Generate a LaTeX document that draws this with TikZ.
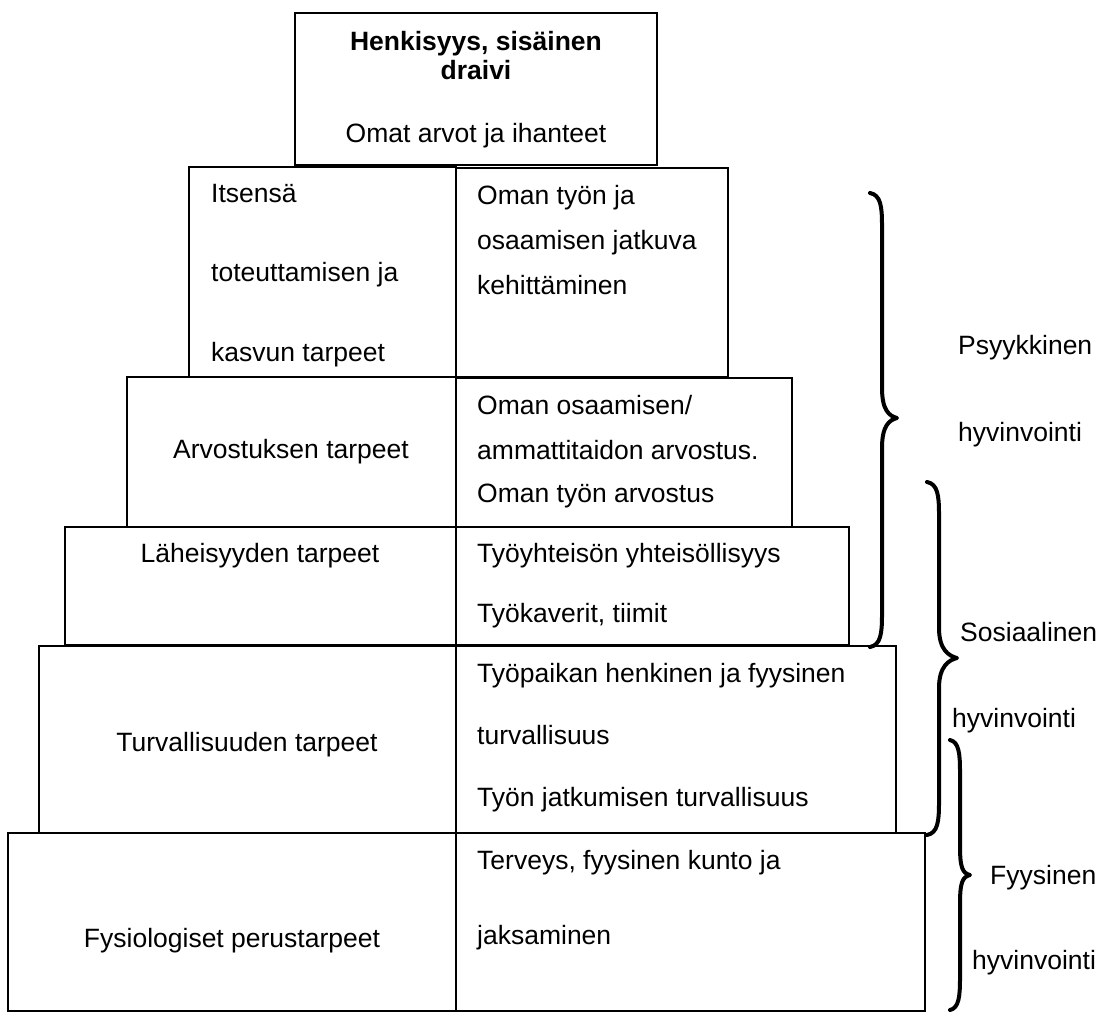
\documentclass[tikz,border=0pt]{standalone}
\usepackage{fontspec}
\setmainfont{Liberation Sans}
\newcommand\mybrace[6]{% x0, ytop, ybot, body offset, tip offset, ymid
  \draw[brace] (#1,#2) .. controls (#1+#4*0.9,#2+2) and (#1+#4,#2+14) .. (#1+#4,#2+32)
    -- (#1+#4,#6-30) .. controls (#1+#4,#6-8) and (#1+#5-8,#6-2) .. (#1+#5,#6)
    .. controls (#1+#5-8,#6+2) and (#1+#4,#6+8) .. (#1+#4,#6+30)
    -- (#1+#4,#3-32) .. controls (#1+#4,#3-14) and (#1+#4*0.9,#3-2) .. (#1,#3);}
\begin{document}
\begin{tikzpicture}[x=1pt,y=-1pt,
  box/.style={draw=black,line width=1.4pt},
  brace/.style={draw=black,line width=4pt,line cap=round,line join=round},
  txt/.style={inner sep=0pt,font=\fontsize{26.5}{30}\selectfont},
  ltxt/.style={txt,anchor=base west},
  ctxt/.style={txt,anchor=base}]
\useasboundingbox[fill=white] (0,0) rectangle (1100,1012);
% boxes
\draw[box] (295,13) rectangle (657,165);
\draw[box] (189,167) rectangle (456,377);
\draw[box] (456,168) rectangle (728,377);
\draw[box] (127,377) rectangle (456,527);
\draw[box] (456,378) rectangle (792,527);
\draw[box] (65,527) rectangle (456,645);
\draw[box] (456,527) rectangle (849,645);
\draw[box] (39,646) rectangle (456,833);
\draw[box] (456,646) rectangle (896,833);
\draw[box] (8,833) rectangle (456,1011);
\draw[box] (456,833) rectangle (925,1011);
% top
\node[ctxt,font=\fontsize{26.5}{30}\selectfont\bfseries] (t1) at (476,50) {Henkisyys, sisäinen};
\node[ctxt,font=\fontsize{26.5}{30}\selectfont\bfseries] (t2) at (476,79) {draivi};
\node[ctxt] (t3) at (476,142) {Omat arvot ja ihanteet};
% row 2
\node[ltxt] (a1) at (211,202) {Itsensä};
\node[ltxt] (a2) at (211,281) {toteuttamisen ja};
\node[ltxt] (a3) at (211,361) {kasvun tarpeet};
\node[ltxt] (b1) at (477,204) {Oman työn ja};
\node[ltxt] (b2) at (477,249) {osaamisen jatkuva};
\node[ltxt] (b3) at (477,294) {kehittäminen};
% row 3
\node[ctxt] (c1) at (291,458) {Arvostuksen tarpeet};
\node[ltxt] (d1) at (477,414) {Oman osaamisen/};
\node[ltxt] (d2) at (477,459) {ammattitaidon arvostus.};
\node[ltxt] (d3) at (477,502) {Oman työn arvostus};
% row 4
\node[ctxt] (e1) at (260,562) {Läheisyyden tarpeet};
\node[ltxt] (f1) at (477,562) {Työyhteisön yhteisöllisyys};
\node[ltxt] (f2) at (477,622) {Työkaverit, tiimit};
% row 5
\node[ctxt] (g1) at (247,751) {Turvallisuuden tarpeet};
\node[ltxt] (h1) at (477,682) {Työpaikan henkinen ja fyysinen};
\node[ltxt] (h2) at (477,744) {turvallisuus};
\node[ltxt] (h3) at (477,806) {Työn jatkumisen turvallisuus};
% row 6
\node[ctxt] (i1) at (232,947) {Fysiologiset perustarpeet};
\node[ltxt] (j1) at (477,869) {Terveys, fyysinen kunto ja};
\node[ltxt] (j2) at (477,944) {jaksaminen};
% braces
\mybrace{870}{193}{647}{12}{27}{418}
\mybrace{927}{482}{835}{12}{30}{658}
\mybrace{950}{740}{1010}{10}{20}{875}
% labels
\node[ltxt] (p1) at (958,354) {Psyykkinen};
\node[ltxt] (p2) at (958,441) {hyvinvointi};
\node[ltxt] (s1) at (960,641) {Sosiaalinen};
\node[ltxt] (s2) at (952,727) {hyvinvointi};
\node[ltxt] (y1) at (990,884) {Fyysinen};
\node[ltxt] (y2) at (972,969) {hyvinvointi};
\end{tikzpicture}
\end{document}
